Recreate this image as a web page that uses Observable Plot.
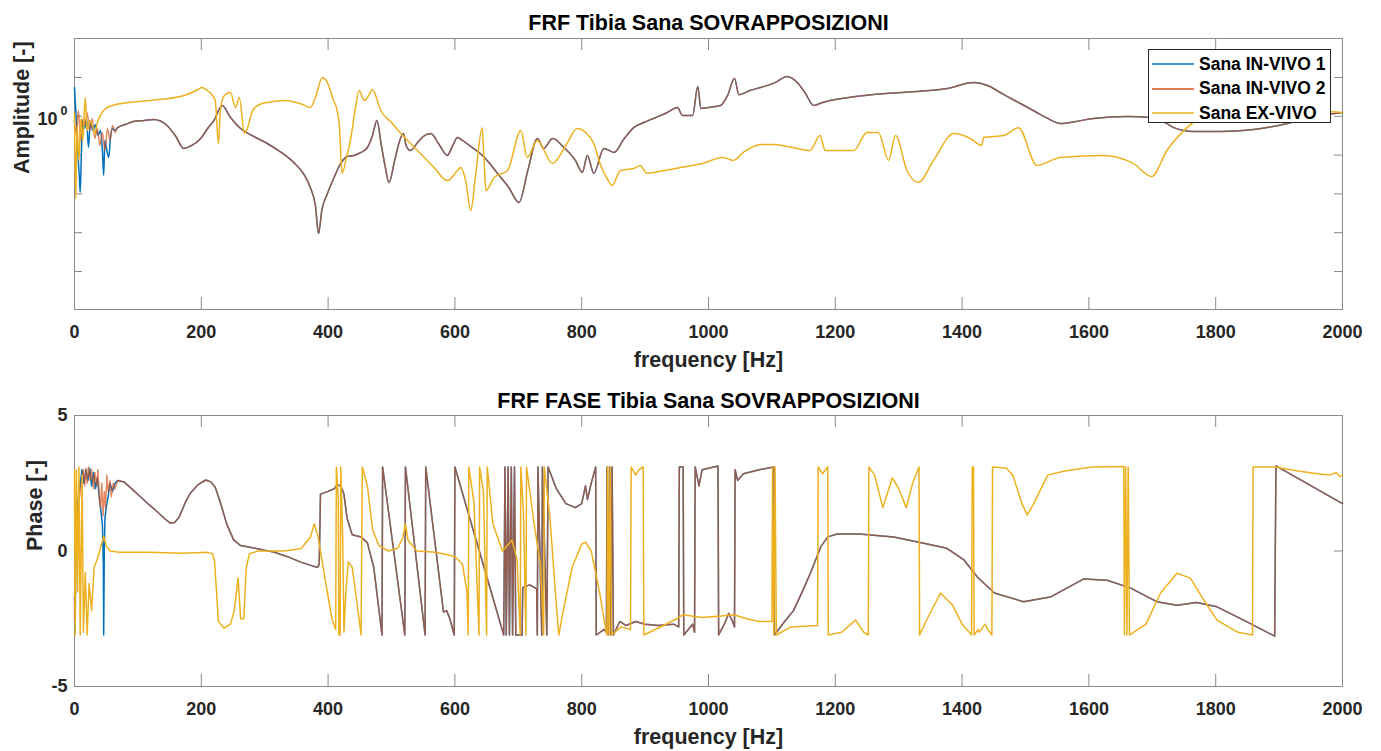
<!DOCTYPE html>
<html lang="it">
<head>
<meta charset="utf-8">
<title>FRF Tibia Sana SOVRAPPOSIZIONI</title>
<script src="https://cdn.jsdelivr.net/npm/d3@7"></script>
<script src="https://cdn.jsdelivr.net/npm/@observablehq/plot@0.6"></script>
<style>
  html, body { margin: 0; padding: 0; background: #fff; }
  #figure { position: relative; width: 1381px; height: 751px; font-family: "Liberation Sans", Arial, Helvetica, sans-serif; }
  #figure svg { display: block; }
  .legend { position: absolute; left: 1148px; top: 49px; width: 183px; height: 74px; box-sizing: border-box;
            background: #fff; border: 1px solid #262626; }
  .legend .row { position: absolute; left: 0; height: 20px; display: flex; align-items: center; }
  .legend svg { margin-left: 3px; }
  .legend span { margin-left: 5px; font-size: 17.5px; font-weight: bold; color: #000; white-space: nowrap; }
</style>
</head>
<body>
<div id="figure"></div>
<script>
// ---- series ----
const seriesNames = ["Sana IN-VIVO 1", "Sana IN-VIVO 2", "Sana EX-VIVO"];
const seriesColors = ["#0072BD", "#D95319", "#EDB120"];

// ---- axes ----
const xTicks = [0, 200, 400, 600, 800, 1000, 1200, 1400, 1600, 1800, 2000];
const ampTicks = [1e-4, 1e-3, 1e-2, 1e-1, 1, 10];
const ampLabelTicks = [1];
const phaseTicks = [-5, 0, 5];

// ---- amplitude [-] vs frequency [Hz] ----
// IN-VIVO 1, low band (where it departs from IN-VIVO 2)
const vivo1AmpLow = [[0,5.5],[2,1.41],[4,0.32],[6,0.073],[8,0.022],[9,0.011],[11,0.131],[13,0.78],[16,0.485],[19,0.88],[22,0.157],[25,0.69],[29,0.43],[33,0.615],[37,0.32],[41,0.43],[44,0.131],[46,0.03],[48,0.238],[51,0.131],[54,0.087],[57,0.32],[60,0.485],[64,0.43]];
// IN-VIVO 2, low band
const vivo2AmpLow = [[0,0.78],[3,0.32],[6,1.41],[10,0.238],[13,0.88],[17,0.58],[20,1.25],[24,0.43],[28,0.88],[32,0.268],[36,0.485],[40,0.177],[44,0.382],[48,0.131],[52,0.485],[56,0.238],[60,0.58],[64,0.382]];
// both IN-VIVO measurements above 68 Hz
const vivoAmpShared = [[68,0.51],[80,0.615],[93,0.734],[110,0.78],[125,0.83],[146,0.58],[160,0.301],[172,0.148],[185,0.177],[199,0.268],[210,0.485],[220,0.78],[233,1.9],[245,0.99],[262,0.485],[283,0.301],[304,0.199],[326,0.117],[346,0.064],[362,0.0316],[372,0.0146],[380,0.005],[385,0.00095],[390,0.0037],[399,0.0102],[410,0.028],[420,0.061],[430,0.092],[441,0.098],[452,0.117],[462,0.157],[470,0.32],[477,0.78],[484,0.177],[490,0.051],[496,0.0197],[505,0.073],[513,0.238],[519,0.36],[523,0.177],[530,0.131],[540,0.199],[550,0.301],[562,0.36],[575,0.188],[588,0.098],[596,0.167],[604,0.284],[612,0.238],[625,0.167],[640,0.11],[655,0.061],[667,0.034],[685,0.0146],[701,0.006],[715,0.04],[730,0.268],[740,0.148],[754,0.268],[772,0.157],[790,0.073],[801,0.036],[809,0.098],[819,0.034],[835,0.148],[851,0.117],[866,0.252],[882,0.51],[898,0.69],[913,0.88],[935,1.25],[951,1.69],[959,1.05],[975,1.05],[983,5.9],[988,1.59],[1000,1.69],[1019,1.9],[1030,3.4],[1041,9.4],[1048,3.6],[1065,4.6],[1082,5.5],[1105,7.4],[1124,10.6],[1140,7.4],[1152,4.11],[1166,1.9],[1180,2.27],[1192,2.55],[1210,2.88],[1229,3.2],[1280,3.87],[1334,4.4],[1377,5.2],[1418,7.4],[1440,6.2],[1466,3.6],[1492,2.14],[1515,1.33],[1535,0.88],[1555,0.65],[1580,0.734],[1607,0.88],[1661,0.99],[1697,0.93],[1720,0.69],[1734,0.51],[1765,0.406],[1808,0.406],[1860,0.457],[1913,0.65],[1950,0.93],[2000,1.25]];
// EX-VIVO
const exVivoAmp = [[0,1.18],[2,0.0076],[4,0.58],[7,0.073],[10,0.88],[13,0.238],[17,3.05],[20,0.43],[24,0.78],[28,0.58],[32,0.36],[36,0.69],[41,1.05],[46,1.41],[52,1.69],[60,1.9],[74,2.14],[118,2.55],[172,3.4],[195,4.91],[201,5.5],[207,4.91],[215,3.87],[222,2.55],[227,0.199],[230,1.41],[236,3.4],[246,4.11],[254,1.69],[260,3.05],[268,0.36],[273,0.51],[281,1.41],[292,2.01],[304,2.27],[330,2.55],[360,2.01],[372,1.69],[380,3.05],[391,10.0],[397,8.4],[402,5.5],[408,2.71],[413,1.69],[418,0.51],[422,0.034],[429,0.087],[436,0.284],[443,1.59],[449,4.6],[457,2.55],[463,3.2],[470,4.91],[483,1.41],[500,0.69],[515,0.36],[541,0.131],[567,0.048],[588,0.022],[604,0.04],[609,0.048],[617,0.022],[625,0.0037],[633,0.034],[643,0.51],[646,0.073],[649,0.0122],[662,0.0265],[683,0.04],[704,0.43],[714,0.087],[730,0.238],[754,0.061],[775,0.177],[793,0.485],[808,0.36],[819,0.199],[830,0.054],[840,0.025],[848,0.0164],[861,0.04],[882,0.045],[892,0.054],[903,0.034],[930,0.04],[956,0.048],[990,0.061],[1023,0.087],[1039,0.073],[1055,0.117],[1082,0.188],[1103,0.188],[1125,0.167],[1160,0.131],[1176,0.32],[1184,0.131],[1229,0.131],[1250,0.382],[1268,0.382],[1284,0.073],[1295,0.32],[1313,0.04],[1331,0.0197],[1355,0.073],[1387,0.36],[1413,0.268],[1431,0.177],[1434,0.284],[1466,0.32],[1489,0.51],[1518,0.054],[1555,0.087],[1623,0.098],[1670,0.061],[1699,0.028],[1723,0.131],[1755,0.51],[1775,0.93],[1800,1.25],[1850,1.41],[1950,1.41],[2000,1.25]];

// ---- phase [rad] vs frequency [Hz] ----
const vivo1PhaseLow = [[0,-1.7],[1,-3.0],[2,-0.5],[3,1.0],[6,2.0],[9,2.5],[12,3.0],[15,2.5],[18,3.0],[21,2.6],[24,3.05],[27,2.4],[30,2.9],[33,2.3],[36,2.7],[39,2.0],[42,1.4],[44,1.0],[45.5,-0.5],[46,-3.1],[47,0.0],[48,1.2],[50,1.6],[53,2.0],[56,2.5],[60,2.2],[64,2.5]];
const vivo2PhaseLow = [[0,-2.5],[2,0.5],[5,1.5],[8,2.0],[11,2.6],[14,3.0],[16,2.4],[18,3.05],[20,2.5],[22,3.1],[25,2.6],[27,3.0],[30,2.3],[32,2.9],[35,2.4],[37,3.0],[39,2.0],[41,1.6],[43,2.5],[45,1.3],[47,2.2],[49,1.6],[51,2.8],[53,2.2],[56,2.6],[58,2.0],[61,2.5],[64,2.3]];
const vivoPhaseShared = [[68,2.6],[78,2.55],[90,2.3],[104,2.0],[118,1.7],[131,1.44],[142,1.2],[151,1.03],[158,1.05],[165,1.25],[175,1.8],[183,2.14],[195,2.45],[207,2.62],[215,2.55],[222,2.35],[230,1.8],[240,1.0],[251,0.41],[262,0.2],[283,0.11],[300,0.03],[314,-0.04],[335,-0.2],[357,-0.41],[375,-0.55],[383,-0.6],[386,-0.5],[388,2.1],[400,2.2],[405,2.25],[410,2.3],[414,2.45],[420,2.4],[425,2.1],[430,1.2],[438,0.6],[452,0.52],[462,0.3],[472,-0.6],[485,-3.1],[486,3.1],[521,-3.1],[522,3.1],[553,-3.1],[554,3.1],[582,-2.25],[587,-2.2],[592,-2.5],[599,-3.1],[600,3.1],[677,-3.1],[679,3.1],[681,-3.1],[684,3.1],[686,-3.1],[689,3.1],[691,-3.1],[694,3.1],[696,-3.1],[706,-3.1],[707,-1.35],[712,-1.3],[718,-1.25],[726,-1.35],[729,-1.4],[730,-3.1],[731,3.1],[737,-3.1],[738,3.1],[745,-3.1],[747,3.1],[760,2.3],[775,1.75],[790,1.6],[800,1.75],[806,2.4],[809,1.9],[815,2.5],[822,3.1],[823,-3.1],[835,-2.9],[839,-3.0],[840,3.1],[842,-3.1],[844,3.1],[846,-3.1],[848,3.1],[850,-3.1],[860,-2.6],[870,-2.75],[885,-2.6],[900,-2.7],[920,-2.75],[945,-2.7],[953,-2.8],[954,3.1],[960,3.1],[961,-3.1],[975,-2.7],[978,-3.0],[979,3.1],[985,2.4],[990,3.0],[1015,3.14],[1016,-3.1],[1025,-2.7],[1032,-2.3],[1038,-2.6],[1041,-2.8],[1042,3.0],[1046,2.6],[1055,2.85],[1080,3.0],[1103,3.1],[1104,-3.1],[1120,-2.6],[1134,-2.2],[1148,-1.5],[1161,-0.8],[1177,0.15],[1188,0.52],[1203,0.63],[1238,0.63],[1292,0.52],[1334,0.31],[1376,0.1],[1403,-0.33],[1424,-0.96],[1451,-1.55],[1497,-1.87],[1539,-1.7],[1592,-1.03],[1629,-1.08],[1666,-1.37],[1707,-1.87],[1739,-2.0],[1770,-1.9],[1802,-2.06],[1844,-2.55],[1893,-3.14],[1895,3.14],[2000,1.75]];
const exVivoPhase = [[0,3.0],[1,-3.1],[3,3.0],[5,-1.5],[7,3.1],[9,-3.1],[12,2.8],[14,-3.0],[17,-0.8],[20,-3.1],[23,-1.2],[27,-2.2],[31,-0.6],[36,-0.3],[42,0.2],[46,0.55],[50,0.2],[56,0.0],[70,-0.05],[120,-0.05],[170,-0.08],[210,-0.05],[218,-0.1],[221,-0.4],[224,-1.5],[227,-2.6],[236,-2.85],[246,-2.7],[252,-2.2],[258,-1.0],[262,-2.5],[267,-2.5],[271,-0.6],[276,-0.1],[290,0.0],[330,0.0],[357,0.08],[372,0.5],[378,1.0],[384,0.55],[395,-1.0],[406,-2.5],[412,-2.9],[413,3.1],[416,2.0],[417,-3.1],[419,-3.1],[420,3.1],[423,0.5],[425,-3.0],[428,-1.5],[432,-0.4],[438,-0.6],[445,-1.8],[452,-3.1],[454,3.1],[462,2.4],[470,0.8],[480,0.2],[495,0.0],[510,0.1],[518,0.5],[522,1.0],[526,0.4],[540,0.0],[570,-0.05],[600,-0.2],[612,-0.5],[619,-1.5],[621,-3.1],[622,3.1],[630,1.8],[638,-3.1],[639,3.1],[645,2.2],[650,-3.1],[651,3.1],[660,1.0],[675,0.0],[690,0.4],[698,-0.3],[703,-3.1],[704,3.1],[708,1.5],[712,-3.1],[713,3.1],[725,1.0],[735,-0.5],[740,-3.1],[741,3.1],[750,1.2],[760,-2.0],[764,-3.1],[770,-2.3],[785,-0.6],[800,0.25],[806,0.33],[815,0.0],[828,-1.5],[838,-2.9],[840,-3.1],[841,3.1],[843,-3.1],[845,3.1],[847,-3.1],[862,-2.8],[877,-2.9],[878,3.1],[885,2.8],[890,3.0],[897,3.1],[898,-3.1],[920,-2.85],[950,-2.5],[960,-2.35],[990,-2.45],[1020,-2.4],[1040,-2.35],[1060,-2.5],[1080,-2.6],[1100,-2.6],[1101,3.1],[1103,-3.1],[1105,3.1],[1107,-3.1],[1130,-2.8],[1172,-2.75],[1173,3.1],[1180,2.85],[1188,3.1],[1189,-3.1],[1210,-3.0],[1232,-2.55],[1245,-3.0],[1252,-3.1],[1253,3.1],[1262,2.8],[1275,1.6],[1290,2.7],[1300,2.3],[1312,1.6],[1322,2.5],[1332,3.1],[1333,-3.1],[1345,-2.5],[1366,-1.55],[1385,-2.0],[1400,-2.7],[1415,-3.1],[1416,3.1],[1418,3.1],[1419,-3.1],[1425,-2.9],[1427,-3.0],[1436,-2.7],[1441,-2.9],[1447,-3.1],[1448,3.1],[1470,3.05],[1480,2.8],[1495,1.7],[1503,1.33],[1512,1.7],[1535,2.8],[1562,2.95],[1605,3.1],[1655,3.12],[1656,-3.1],[1658,3.1],[1660,-3.1],[1662,3.1],[1664,-3.1],[1690,-2.7],[1713,-1.55],[1739,-0.82],[1760,-1.0],[1781,-1.8],[1802,-2.55],[1835,-3.0],[1858,-3.1],[1859,3.1],[1893,3.1],[1930,2.95],[1960,2.85],[1980,2.8],[1990,2.9],[1996,2.75],[2000,2.8]];

const vivo1Amp = vivo1AmpLow.concat(vivoAmpShared);
const vivo2Amp = vivo2AmpLow.concat(vivoAmpShared);
const vivo1Phase = vivo1PhaseLow.concat(vivoPhaseShared);
const vivo2Phase = vivo2PhaseLow.concat(vivoPhaseShared);

// ---- layout (MATLAB-like boxed axes) ----
const W = 1381;
const M = {left: 74, right: 39};
const innerW = W - M.left - M.right;
const boxColor = "#8a8a8a";
const textColor = "#262626";
const font = "'Liberation Sans', Arial, Helvetica, sans-serif";
const plainNumber = d => String(d);

function boxMarks(yTicks, innerH) {
  return [
    Plot.frame({stroke: boxColor, strokeWidth: 1}),
    Plot.tickX(xTicks, {x: d => d, stroke: boxColor, insetBottom: innerH - 12}),
    Plot.tickX(xTicks, {x: d => d, stroke: boxColor, insetTop: innerH - 12}),
    Plot.tickY(yTicks, {y: d => d, stroke: boxColor, insetRight: innerW - 8}),
    Plot.tickY(yTicks, {y: d => d, stroke: boxColor, insetLeft: innerW - 8})
  ];
}

// amplitude traces are smoothed; wrapped phase keeps straight ramps and sharp jumps
function seriesLines(series, curve) {
  return series.map((data, i) => Plot.line(data, {
    x: d => d[0], y: d => d[1],
    curve,
    stroke: seriesColors[i],
    strokeWidth: 1.5,
    strokeOpacity: i === 1 ? 0.68 : 1,
    strokeLinejoin: "round"
  }));
}

function titleMarks(title, dyTitle) {
  return [
    Plot.text([title], {frameAnchor: "top", lineAnchor: "bottom", dy: dyTitle, fontSize: 21.5, fontWeight: "bold", fill: "#000"}),
    Plot.text(["frequency [Hz]"], {frameAnchor: "bottom", lineAnchor: "bottom", dy: 57, fontSize: 21.5, fontWeight: "bold", fill: textColor}),
    Plot.axisX({ticks: xTicks, tickFormat: plainNumber, anchor: "bottom", tickSize: 0, tickPadding: 16, label: null, fontSize: 18, fontWeight: "bold", fill: textColor})
  ];
}

const styleBase = {fontFamily: font, fontWeight: "bold", fontSize: "18px", color: textColor, background: "#fff", overflow: "visible"};

// upper panel: amplitude, log scale
const topH = 375, topMT = 38, topMB = 66;
const amplitudePlot = Plot.plot({
  width: W, height: topH,
  marginLeft: M.left, marginRight: M.right, marginTop: topMT, marginBottom: topMB,
  style: styleBase,
  x: {domain: [0, 2000], axis: null},
  y: {type: "log", domain: [Math.pow(10, -4.98), Math.pow(10, 2.005)], axis: null},
  marks: [
    ...boxMarks(ampTicks, topH - topMT - topMB),
    ...seriesLines([vivo1Amp, vivo2Amp, exVivoAmp], "monotone-x"),
    ...titleMarks("FRF Tibia Sana SOVRAPPOSIZIONI", -9),
    Plot.text(ampLabelTicks, {y: d => d, frameAnchor: "left", text: () => "10", textAnchor: "end", dx: -17, dy: 3, fontSize: 18, fontWeight: "bold", fill: textColor}),
    Plot.text(ampLabelTicks, {y: d => d, frameAnchor: "left", text: d => String(Math.round(Math.log10(d))), textAnchor: "end", lineAnchor: "bottom", dx: -7, dy: -1, fontSize: 12.5, fontWeight: "bold", fill: textColor}),
    Plot.text(["Amplitude [-]"], {frameAnchor: "left", rotate: -90, dx: -52, fontSize: 21.5, fontWeight: "bold", fill: textColor})
  ]
});

// lower panel: phase
const botH = 376, botMT = 40, botMB = 65;
const phasePlot = Plot.plot({
  width: W, height: botH,
  marginLeft: M.left, marginRight: M.right, marginTop: botMT, marginBottom: botMB,
  style: styleBase,
  x: {domain: [0, 2000], axis: null},
  y: {domain: [-5, 5], axis: null},
  marks: [
    ...boxMarks(phaseTicks, botH - botMT - botMB),
    ...seriesLines([vivo1Phase, vivo2Phase, exVivoPhase], "linear"),
    ...titleMarks("FRF FASE Tibia Sana SOVRAPPOSIZIONI", -8),
    Plot.axisY({ticks: phaseTicks, tickFormat: plainNumber, anchor: "left", tickSize: 0, tickPadding: 7, label: null, fontSize: 18, fontWeight: "bold", fill: textColor}),
    Plot.text(["Phase [-]"], {frameAnchor: "left", rotate: -90, dx: -39, fontSize: 21.5, fontWeight: "bold", fill: textColor})
  ]
});

const fig = document.getElementById("figure");
fig.appendChild(amplitudePlot);
fig.appendChild(phasePlot);

// legend box over the upper panel
const legend = document.createElement("div");
legend.className = "legend";
seriesNames.forEach((name, i) => {
  const row = document.createElement("div");
  row.className = "row";
  row.style.top = (4 + i * 24.5) + "px";
  row.innerHTML = `<svg width="42" height="6"><line x1="0" x2="42" y1="3" y2="3" stroke="${seriesColors[i]}" stroke-width="1.5"/></svg><span>${name}</span>`;
  legend.appendChild(row);
});
fig.appendChild(legend);
</script>
</body>
</html>
